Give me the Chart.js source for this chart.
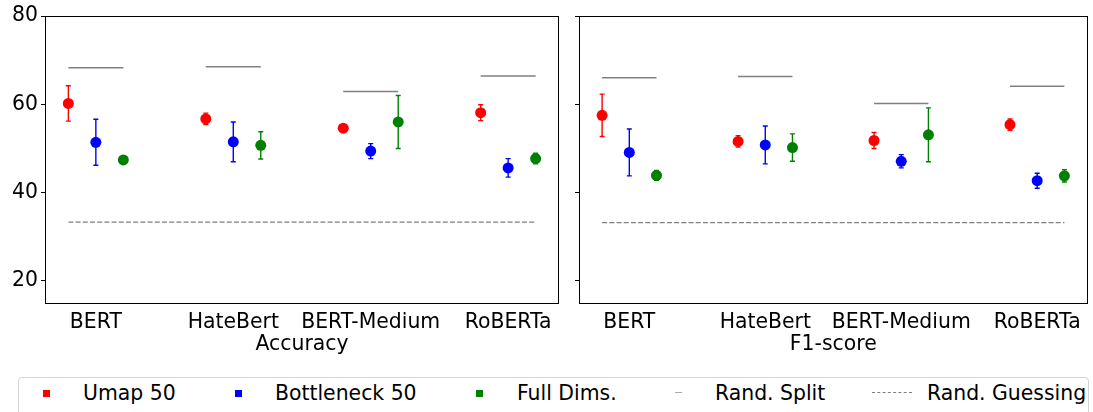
<!DOCTYPE html>
<html>
<head>
<meta charset="utf-8">
<script src="https://cdn.jsdelivr.net/npm/chart.js"></script>
<style>
  body { margin: 0; background: #fff; font-family: "DejaVu Sans", sans-serif; }
  #wrap { position: relative; width: 1093px; height: 412px; overflow: hidden; }
  canvas { position: absolute; top: 0; }
  #accChart { left: 0; }
  #f1Chart { left: 560px; }
  .legend-box { position: absolute; left: 18px; top: 377px; width: 1071px; height: 44px;
    border: 1px solid #d4d4d4; border-radius: 4px; box-sizing: border-box; }
  .lg-text { position: absolute; top: 381px; font-size: 20.4px; line-height: 24px; color: #000; white-space: nowrap; }
  .lg-sq { position: absolute; top: 390px; width: 7px; height: 7px; }
  .lg-line { position: absolute; top: 392px; height: 0; }
</style>
</head>
<body>
<div id="wrap">
  <canvas id="accChart" width="565" height="365"></canvas>
  <canvas id="f1Chart" width="533" height="365"></canvas>
  <div class="legend-box"></div>
  <div class="lg-sq" style="left:43px;background:#ff0000"></div>
  <div class="lg-text" style="left:83px">Umap 50</div>
  <div class="lg-sq" style="left:235px;background:#0000ff"></div>
  <div class="lg-text" style="left:275px">Bottleneck 50</div>
  <div class="lg-sq" style="left:476px;background:#008000"></div>
  <div class="lg-text" style="left:517px">Full Dims.</div>
  <div class="lg-line" style="left:675px;width:7px;border-top:1.5px solid #aaaaaa"></div>
  <div class="lg-text" style="left:715px">Rand. Split</div>
  <div class="lg-line" style="left:872px;width:40px;border-top:1.5px dashed #808080"></div>
  <div class="lg-text" style="left:927px">Rand. Guessing</div>
</div>
<script>
// categories and tick labels
const categories = ['BERT', 'HateBert', 'BERT-Medium', 'RoBERTa'];
const yTicks = [20, 40, 60, 80];

// Accuracy
const accUmap = [60.2, 56.7, 54.6, 58.1];
const accUmapErr = [4.0, 1.3, 0.6, 1.8];
const accBottleneck = [51.4, 51.5, 49.4, 45.6];
const accBottleneckErr = [5.2, 4.5, 1.7, 2.1];
const accFull = [47.4, 50.7, 56.0, 47.7];
const accFullErr = [0.3, 3.1, 6.0, 1.2];
const accSplit = [68.3, 68.5, 62.9, 66.4];
const accGuess = 33.33;

// F1-score
const f1Umap = [57.5, 51.6, 51.8, 55.4];
const f1UmapErr = [4.8, 1.3, 1.8, 1.3];
const f1Bottleneck = [49.1, 50.8, 47.1, 42.7];
const f1BottleneckErr = [5.3, 4.3, 1.5, 1.7];
const f1Full = [43.9, 50.2, 53.1, 43.8];
const f1FullErr = [1.1, 3.1, 6.1, 1.4];
const f1Split = [66.0, 66.3, 60.2, 64.1];
const f1Guess = 33.2;

const FONT = { family: "'DejaVu Sans', sans-serif", size: 20.4 };
const offsets = [-0.2, 0, 0.2];

const errorBars = {
  id: 'errorBars',
  beforeDatasetDraw(chart, args) {
    const ds = chart.data.datasets[args.index];
    if (!ds.err) return;
    const { ctx, scales: { x, y } } = chart;
    ctx.save();
    ctx.strokeStyle = ds.backgroundColor;
    ctx.lineWidth = 1.4;
    ds.data.forEach((p, i) => {
      const px = x.getPixelForValue(p.x);
      const top = y.getPixelForValue(p.y + ds.err[i]);
      const bot = y.getPixelForValue(p.y - ds.err[i]);
      ctx.beginPath();
      ctx.moveTo(px, top); ctx.lineTo(px, bot);
      ctx.moveTo(px - 2.5, top); ctx.lineTo(px + 2.5, top);
      ctx.moveTo(px - 2.5, bot); ctx.lineTo(px + 2.5, bot);
      ctx.stroke();
    });
    ctx.restore();
  },
};

const frame = {
  id: 'frame',
  afterDraw(chart) {
    const { ctx, chartArea: a } = chart;
    ctx.save();
    ctx.strokeStyle = '#000';
    ctx.lineWidth = 1;
    ctx.strokeRect(Math.round(a.left) + 0.5, Math.round(a.top) + 0.5,
      Math.round(a.right - a.left) - 1, Math.round(a.bottom - a.top));
    ctx.restore();
  },
};

function points(values) {
  return values.map((v, i) => ({ x: i, y: v }));
}

function makePanel(id, title, umap, umapErr, bottle, bottleErr, full, fullErr, split, guess, showLabels, yWidth, padRight) {
  const splitData = [];
  split.forEach((v, i) => {
    splitData.push({ x: i - 0.2, y: v }, { x: i + 0.2, y: v }, { x: i + 0.5, y: null });
  });
  const series = [
    { label: 'Umap 50', values: umap, err: umapErr, color: '#ff0000' },
    { label: 'Bottleneck 50', values: bottle, err: bottleErr, color: '#0000ff' },
    { label: 'Full Dims.', values: full, err: fullErr, color: '#008000' },
  ];
  const datasets = [
    { label: 'Rand. Split', data: splitData, showLine: true, spanGaps: false, borderColor: '#808080',
      borderWidth: 1.5, pointRadius: 0 },
    { label: 'Rand. Guessing', data: [{ x: -0.2, y: guess }, { x: 3.2, y: guess }], showLine: true,
      borderColor: '#808080', borderWidth: 1.3, borderDash: [5, 2.2], pointRadius: 0 },
  ];
  series.forEach((s, k) => {
    datasets.push({
      label: s.label,
      data: points(s.values).map((p) => ({ x: p.x + offsets[k], y: p.y })),
      err: s.err,
      backgroundColor: s.color,
      borderWidth: 0,
      pointRadius: 5.5,
    });
  });

  return new Chart(document.getElementById(id), {
    type: 'scatter',
    data: { datasets },
    options: {
      responsive: false,
      animation: false,
      layout: { padding: { top: 16, right: padRight, left: 0, bottom: 0 } },
      plugins: { legend: { display: false }, tooltip: { enabled: false } },
      scales: {
        x: {
          type: 'linear',
          min: -0.37,
          max: 3.37,
          afterBuildTicks(scale) { scale.ticks = categories.map((c, i) => ({ value: i })); },
          afterFit(scale) { scale.height = 62; },
          ticks: {
            font: FONT,
            color: '#000',
            padding: 7,
            maxRotation: 0,
            autoSkip: false,
            callback: (v) => categories[v],
          },
          grid: { display: false, drawTicks: false },
          border: { display: false },
          title: { display: true, text: title, font: FONT, color: '#000', padding: { top: 0, bottom: 8 } },
        },
        y: {
          min: 15,
          max: 80,
          afterBuildTicks(scale) { scale.ticks = yTicks.map((v) => ({ value: v })); },
          afterFit(scale) { scale.width = yWidth; },
          ticks: { display: showLabels, font: FONT, color: '#000', padding: 3 },
          grid: { drawOnChartArea: false, drawTicks: true, tickLength: 4, color: '#000' },
          border: { display: false },
        },
      },
    },
    plugins: [errorBars, frame],
  });
}

makePanel('accChart', 'Accuracy', accUmap, accUmapErr, accBottleneck, accBottleneckErr,
  accFull, accFullErr, accSplit, accGuess, true, 45, 6);
makePanel('f1Chart', 'F1-score', f1Umap, f1UmapErr, f1Bottleneck, f1BottleneckErr,
  f1Full, f1FullErr, f1Split, f1Guess, false, 19, 1);
</script>
</body>
</html>
